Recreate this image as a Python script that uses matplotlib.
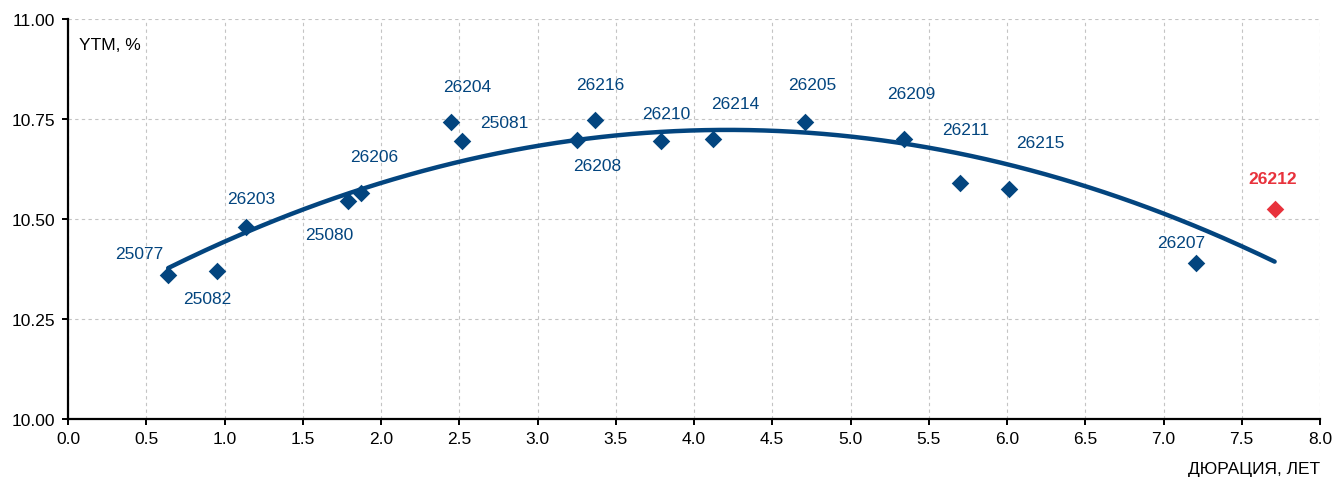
import numpy as np
import matplotlib
matplotlib.use("Agg")
import matplotlib.pyplot as plt

plt.rcParams['font.family'] = ['Liberation Sans', 'DejaVu Sans']
FS = 12.5

# ---- data ----
names = ["25077", "25082", "26203", "25080", "26206", "26204", "25081", "26208",
         "26216", "26210", "26214", "26205", "26209", "26211", "26215", "26207"]
duration = [0.64, 0.95, 1.14, 1.79, 1.87, 2.45, 2.52, 3.25,
            3.37, 3.79, 4.12, 4.71, 5.34, 5.70, 6.01, 7.21]
ytm = [10.36, 10.37, 10.48, 10.545, 10.565, 10.742, 10.695, 10.698,
       10.748, 10.695, 10.70, 10.742, 10.70, 10.59, 10.575, 10.39]

hl_name = "26212"
hl_duration = 7.71
hl_ytm = 10.525

x_ticks = [0.0, 0.5, 1.0, 1.5, 2.0, 2.5, 3.0, 3.5, 4.0, 4.5, 5.0, 5.5, 6.0, 6.5, 7.0, 7.5, 8.0]
y_ticks = [10.00, 10.25, 10.50, 10.75, 11.00]

# label offsets (pixels) — styling
offsets = {
    "25077": (-29, 21), "25082": (-9, -28), "26203": (5, 28), "25080": (-19, -34),
    "26206": (14, 36), "26204": (16, 36), "25081": (42, 18), "26208": (21, -26),
    "26216": (5, 35), "26210": (5, 27), "26214": (22, 35), "26205": (7, 38),
    "26209": (8, 45), "26211": (6, 53), "26215": (32, 46), "26207": (-15, 20),
}

BLUE = "#03457f"
RED = "#e8323c"

fig = plt.figure(figsize=(13.33, 4.81), dpi=100)
ax = fig.add_axes([68/1333, 1-420/481, (1320-68)/1333, 400/481])

# trend line (quadratic fit)
all_x = np.array(duration + [hl_duration])
all_y = np.array(ytm + [hl_ytm])
coef = np.polyfit(all_x, all_y, 2)
xs = np.linspace(all_x.min(), all_x.max(), 300)
ax.plot(xs, np.polyval(coef, xs), color=BLUE, lw=3.2, solid_capstyle='round', zorder=3)

ax.scatter(duration, ytm, marker='D', s=80, color=BLUE, zorder=4, linewidths=0)
ax.scatter([hl_duration], [hl_ytm], marker='D', s=80, color=RED, zorder=4, linewidths=0)

for n, x, y in zip(names, duration, ytm):
    dx, dy = offsets[n]
    ax.annotate(n, (x, y), xytext=(dx, dy), textcoords='offset pixels',
                ha='center', va='center', color=BLUE, fontsize=FS)
ax.annotate(hl_name, (hl_duration, hl_ytm), xytext=(-2, 30), textcoords='offset pixels',
            ha='center', va='center', color=RED, fontsize=FS, fontweight='bold')

ax.set_xlim(0, 8)
ax.set_ylim(10, 11)
ax.set_xticks(x_ticks)
ax.set_xticklabels([f"{t:.1f}" for t in x_ticks])
ax.set_yticks(y_ticks)
ax.set_yticklabels([f"{t:.2f}" for t in y_ticks])
ax.tick_params(axis='both', labelsize=FS, direction='out', length=4, width=1.4, color='black')
ax.tick_params(axis='x', pad=5)
ax.tick_params(axis='y', pad=5)
ax.grid(True, color='#c4c4c4', linestyle=(0, (3, 3)), lw=0.8)
ax.set_axisbelow(True)
for s in ['top', 'right']:
    ax.spines[s].set_visible(False)
for s in ['left', 'bottom']:
    ax.spines[s].set_linewidth(1.6)

ax.text(0.009, 0.935, "YTM, %", transform=ax.transAxes, fontsize=FS, ha='left', va='center')
fig.text(1320/1333, 1-470/481, "ДЮРАЦИЯ, ЛЕТ", fontsize=FS, ha='right', va='center')

fig.savefig("out.png", dpi=100)
